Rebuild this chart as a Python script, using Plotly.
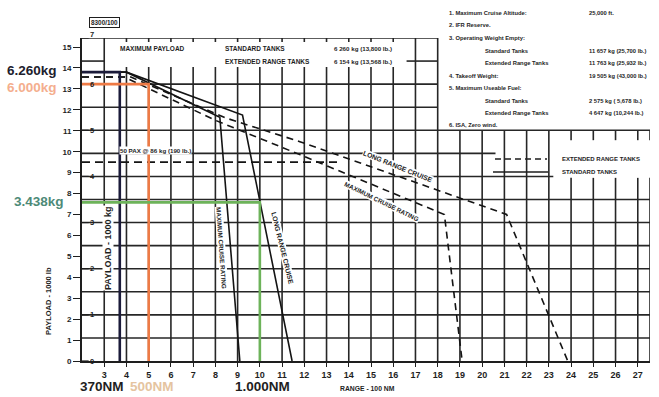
import plotly.graph_objects as go

# ---------------- figure geometry ----------------
W, H = 659, 397
ML, MR, MT, MB = 82, 9, 38, 36
LB_PER_KG = 1 / 0.45359237
X0, X1 = 2.0, 27.55                 # range, 100 NM
Y0, Y1 = 0.0, 7.0 * LB_PER_KG       # payload, 1000 lb (top = 7000 kg)

# ---------------- data (range in 100 NM, payload in 1000 lb) ----------------
std_lrc_range = [2.0, 4.0, 9.22, 11.45]
std_lrc_payload = [13.8, 13.8, 11.75, 0.0]
std_mcr_range = [2.0, 4.0, 8.2, 9.1]
std_mcr_payload = [13.8, 13.8, 11.65, 0.0]

ert_lrc_range = [2.0, 4.2, 8.5, 11.8, 21.1, 23.85]
ert_lrc_payload = [13.568, 13.568, 11.6, 10.48, 7.0, 0.0]
ert_mcr_range = [2.0, 3.9, 8.0, 11.8, 18.3, 19.1]
ert_mcr_payload = [13.568, 13.568, 11.5, 9.86, 7.0, 0.0]

pax_range = [2.0, 13.5]
pax_payload = [9.5, 9.5]          # 50 PAX x 190 lb

# example missions: range (NM), payload (kg)
ex_range_nm = [370, 500, 1000]
ex_payload_kg = [6260, 6000, 3438]
ex_range_text = ["370NM", "500NM", "1.000NM"]
ex_payload_text = ["6.260kg", "6.000kg", "3.438kg"]
ex_line_colors = ["#1b1b3a", "#ee7a45", "#6db35a"]
ex_range_text_colors = ["#1e1e1e", "#e5c4a0", "#1e1e1e"]
ex_payload_text_colors = ["#20202c", "#f4ae8e", "#4d8a77"]

x_ticks = list(range(3, 28))
y_ticks = list(range(0, 16))
kg_ticks = list(range(0, 8))       # 1000 kg

notes_left = ["1. Maximum Cruise Altitude:", "2. IFR Reserve.", "3. Operating Weight Empty:",
              "Standard Tanks", "Extended Range Tanks", "4. Takeoff Weight:",
              "5. Maximum Useable Fuel:", "Standard Tanks", "Extended Range Tanks",
              "6. ISA, Zero wind."]
notes_values = ["25,000 ft.", "", "", "11 657 kg (25,700 lb.)", "11 763 kg (25,932 lb.)",
                "19 505 kg (43,000 lb.)", "", "2 575 kg ( 5,678 lb.)",
                "4 647 kg (10,244 lb.)", ""]
notes_indent = [0, 0, 0, 1, 1, 0, 0, 1, 1, 0]
notes_y = [13, 25, 38, 51, 63, 76, 88, 101, 113, 125]

FONT = "Liberation Sans"
INK = "#1e1e1e"
GRID = "#262626"

PW = W - ML - MR
PH = H - MT - MB


def px_r(px):
    return X0 + (px - ML) * (X1 - X0) / PW


def py_p(py):
    return Y0 + (H - MB - py) * (Y1 - Y0) / PH


def paper_x(px):
    return (px - ML) / PW


def paper_y(py):
    return (H - MB - py) / PH


fig = go.Figure()

# ---------------- grid ----------------
shapes = []


def seg(x0, y0, x1, y1, color=GRID, width=1.6, dash=None):
    line = dict(color=color, width=width)
    if dash:
        line["dash"] = dash
    shapes.append(dict(type="line", xref="x", yref="y", x0=x0, y0=y0, x1=x1, y1=y1,
                       line=line, layer="below"))


kg500 = 0.5 * LB_PER_KG
p5000 = 10 * kg500
box_bottom = py_p(67)
top_tick = py_p(42)

for r in x_ticks:
    if r in (3, 17, 18):
        seg(r, 0, r, Y1)
    elif 4 <= r <= 16:
        seg(r, 0, r, box_bottom)
        seg(r, top_tick, r, Y1)
    elif 19 <= r <= 23:
        seg(r, 0, r, p5000)
    else:
        seg(r, 0, r, 8.75)
        seg(r, 10.55, r, p5000)
# right border
seg(X1, 0, X1, 8.75)
seg(X1, 10.55, X1, p5000)

for k in range(1, 15):
    p = k * kg500
    if k <= 7 or k == 10:
        seg(X0, p, X1, p)
    elif k == 8:
        seg(X0, p, 23.2, p)
    elif k == 9:
        seg(X0, p, 20.6, p)
    elif k in (11, 12, 14):
        seg(X0, p, 18, p)
    elif k == 13:
        seg(X0, p, 3.0, p)
        seg(16.6, p, 18, p)

# inner kg ticks on the payload axis
for k in kg_ticks:
    p = k * LB_PER_KG
    seg(X0, p, X0 + 0.3, p, color=INK, width=1.2)

# legend samples
seg(px_r(495), py_p(159), px_r(547), py_p(159), color=INK, width=1.5, dash="6px,4px")
seg(px_r(493), py_p(172), px_r(548), py_p(172), color=INK, width=1.5)

# ---------------- curves ----------------
for xs, ys, dash in [(ert_lrc_range, ert_lrc_payload, "7px,5px"),
                     (ert_mcr_range, ert_mcr_payload, "7px,5px"),
                     (std_lrc_range, std_lrc_payload, "solid"),
                     (std_mcr_range, std_mcr_payload, "solid"),
                     (pax_range, pax_payload, "8px,5px")]:
    fig.add_trace(go.Scatter(x=xs, y=ys, mode="lines", showlegend=False, hoverinfo="skip",
                             line=dict(color="#141414", width=1.6, dash=dash)))

# example missions
for nm, kg, col in zip(ex_range_nm, ex_payload_kg, ex_line_colors):
    r = nm / 100
    p = kg / 1000 * LB_PER_KG
    fig.add_trace(go.Scatter(x=[X0, r, r], y=[p, p, 0], mode="lines", showlegend=False,
                             hoverinfo="skip", line=dict(color=col, width=2.6)))

# ---------------- text ----------------
ann = []


def text(s, px, py, size, color=INK, xanchor="center", angle=0, bg=None, bold=True, **kw):
    a = dict(text=f"<b>{s}</b>" if bold else s, xref="paper", yref="paper",
             x=paper_x(px), y=paper_y(py), xanchor=xanchor, yanchor="middle",
             showarrow=False, textangle=angle,
             font=dict(family=FONT, size=size, color=color))
    if bg:
        a["bgcolor"] = bg
        a["borderpad"] = 0
    a.update(kw)
    ann.append(a)


# kg scale labels inside the axis
for k in kg_ticks:
    p = k * LB_PER_KG
    py = H - MB - p * PH / (Y1 - Y0)
    text(str(k), 92, py - (3 if k == 7 else 0), 7.5)

# example mission labels
ex_payload_px = [(5, 70), (5, 87), (12, 201)]
for s, c, (x, y) in zip(ex_payload_text, ex_payload_text_colors, ex_payload_px):
    text(s, x, y, 13.5, color=c, xanchor="left")
ex_range_px = [(102, 386), (152, 386), (262, 386)]
for s, c, (x, y) in zip(ex_range_text, ex_range_text_colors, ex_range_px):
    text(s, x, y, 13.5, color=c)

text("RANGE - 100 NM", 367, 388, 6.8)
text("PAYLOAD - 1000 lb", 48, 301, 7.5, angle=-90)
text("PAYLOAD - 1000 kg", 108, 248, 9, angle=-90, bg="white")

text("MAXIMUM PAYLOAD", 152, 48, 6.5)
text("STANDARD TANKS", 223, 48, 6.5, xanchor="left")
text("6 260 kg (13,800 lb.)", 332, 48, 6.2, xanchor="left")
text("EXTENDED RANGE TANKS", 223, 62, 6.5, xanchor="left")
text("6 154 kg (13,568 lb.)", 332, 62, 6.2, xanchor="left")
text("8300/100", 104, 22, 6.4, bordercolor=INK, borderwidth=1, borderpad=1)

text("50 PAX @ 86 kg (190 lb.)", 155, 150, 6.2, bg="white")
text("MAXIMUM CRUISE RATING", 222, 248, 6.3, angle=86, bg="white")
text("LONG RANGE CRUISE", 283, 248, 6.8, angle=76, bg="white")
text("LONG RANGE CRUISE", 398, 166, 6.8, angle=22, bg="white")
text("MAXIMUM CRUISE RATING", 382, 201, 6.3, angle=26, bg="white")

text("EXTENDED RANGE TANKS", 560, 159, 6.0, xanchor="left")
text("STANDARD TANKS", 560, 172, 6.0, xanchor="left")

for s, v, ind, y in zip(notes_left, notes_values, notes_indent, notes_y):
    text(s, 483 if ind else 447, y, 5.8, xanchor="left")
    if v:
        text(v, 587, y, 5.8, xanchor="left")

fig.update_layout(
    width=W, height=H,
    margin=dict(l=ML, r=MR, t=MT, b=MB),
    paper_bgcolor="white", plot_bgcolor="white",
    shapes=shapes, annotations=ann,
    xaxis=dict(range=[X0, X1], showgrid=False, zeroline=False,
               showline=True, linecolor=INK, linewidth=1.8,
               tickmode="array", tickvals=x_ticks, ticks="outside", ticklen=4,
               tickwidth=1.3, tickcolor=INK,
               tickfont=dict(family=FONT, size=9, color=INK, weight="bold")),
    yaxis=dict(range=[Y0, Y1], showgrid=False, zeroline=False,
               showline=True, linecolor=INK, linewidth=1.8,
               tickmode="array", tickvals=y_ticks, ticks="outside", ticklen=7,
               tickwidth=1.3, tickcolor=INK,
               tickfont=dict(family=FONT, size=8, color=INK, weight="bold")),
    showlegend=False,
)

fig.write_html("out.html")
